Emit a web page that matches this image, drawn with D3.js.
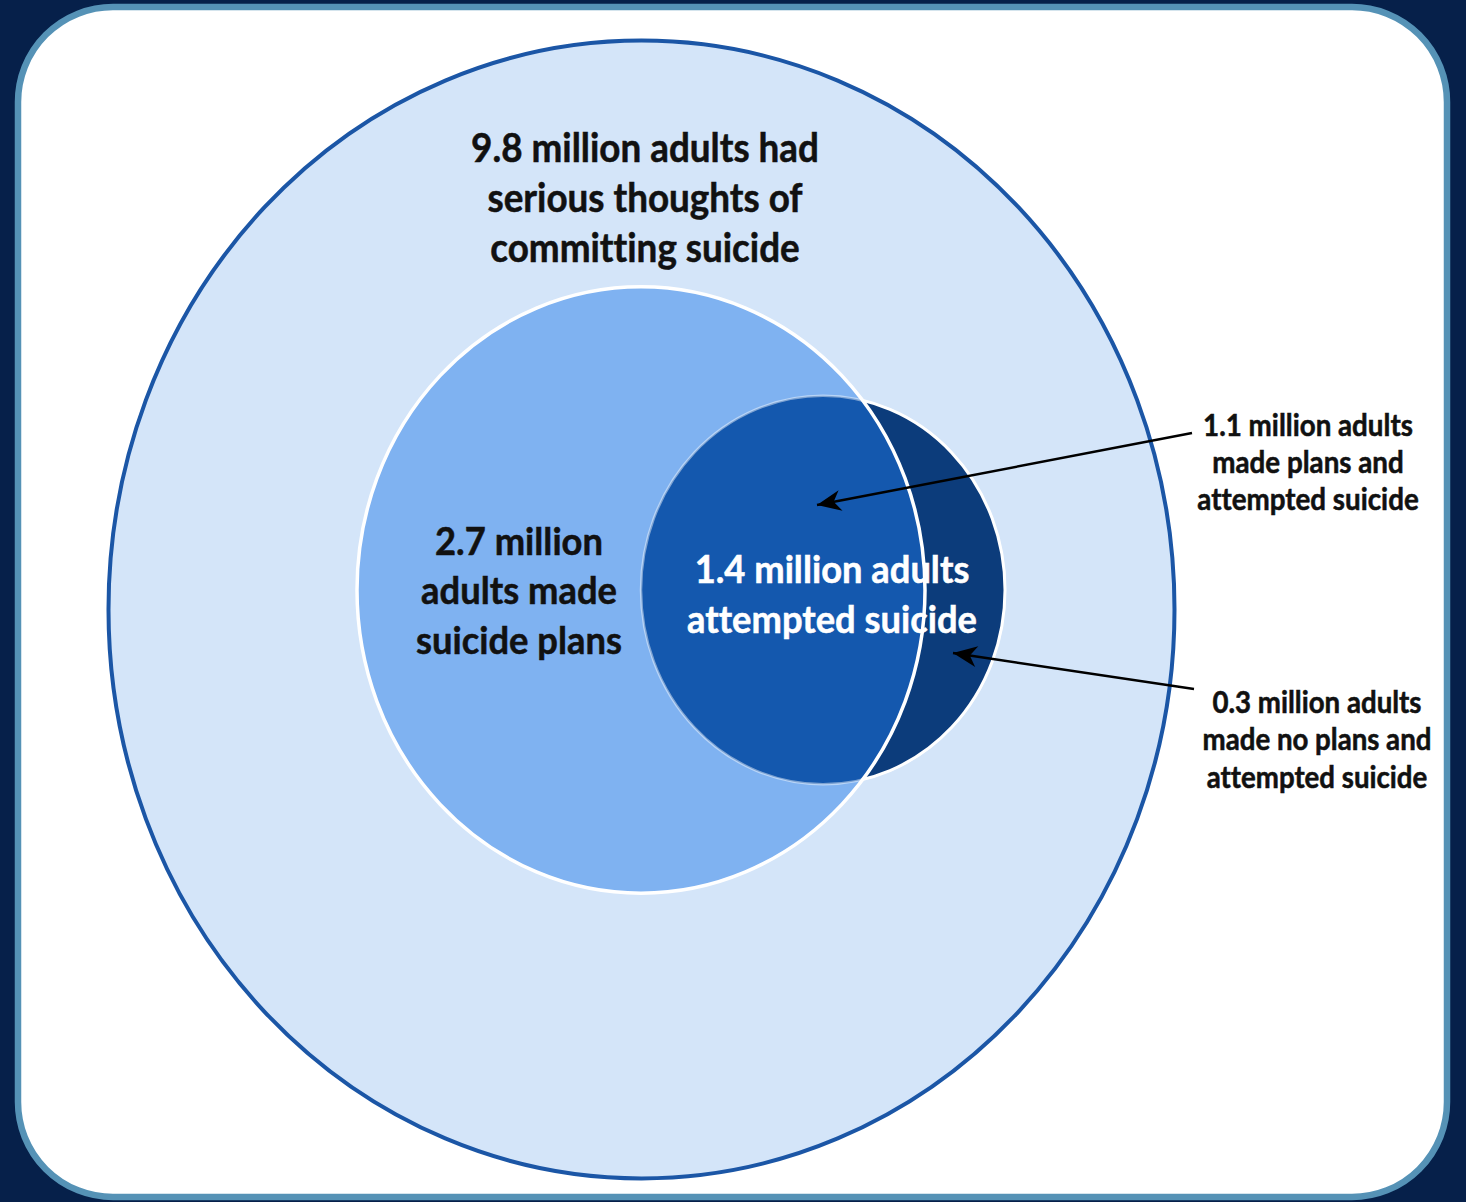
<!DOCTYPE html>
<html>
<head>
<meta charset="utf-8">
<script src="https://cdn.jsdelivr.net/npm/d3@7"></script>
<style>
  html, body { margin: 0; padding: 0; background: #06204a; }
  svg { display: block; }
  text { font-family: Lato, "Open Sans", sans-serif; font-weight: 700; font-variant-ligatures: none; }
</style>
</head>
<body>
<svg id="chart" width="1466" height="1202"></svg>
<script>
// Adults (millions) in each nested group
const groups = ["thoughts", "plans", "attempted"];
const groupValues = [9.8, 2.7, 1.4];
const splitLabels = ["planned", "unplanned"];
const splitValues = [1.1, 0.3];

// Label text, one array of lines per group
const thoughtsLines = [`${groupValues[0]} million adults had`, "serious thoughts of", "committing suicide"];
const plansLines = [`${groupValues[1]} million`, "adults made", "suicide plans"];
const attemptedLines = [`${groupValues[2]} million adults`, "attempted suicide"];
const plannedLines = [`${splitValues[0]} million adults`, "made plans and", "attempted suicide"];
const unplannedLines = [`${splitValues[1]} million adults`, "made no plans and", "attempted suicide"];

const W = 1466, H = 1202;
const svg = d3.select("#chart");

// Card background
svg.append("rect").attr("x", 0).attr("y", 0).attr("width", W).attr("height", H).attr("fill", "#06204a");
svg.append("rect")
  .attr("x", 18).attr("y", 7).attr("width", 1429).attr("height", 1190)
  .attr("rx", 95).attr("ry", 95)
  .attr("fill", "#ffffff").attr("stroke", "#5592b6").attr("stroke-width", 6.5);

// Horizontal radius from value (piecewise layout scale); vertical aspect stretch
const rScale = d3.scaleLinear().domain([groupValues[2], groupValues[1], groupValues[0]]).range([182, 284, 533]);
const aspect = 1.067;

const ells = [
  { key: "thoughts", cx: 641.5, cy: 609.5, v: groupValues[0] },
  { key: "plans", cx: 641, cy: 590, v: groupValues[1] },
  { key: "attempted", cx: 823, cy: 590, v: groupValues[2] }
].map(d => ({ ...d, rx: rScale(d.v), ry: rScale(d.v) * aspect }));
const E = Object.fromEntries(ells.map(d => [d.key, d]));

const defs = svg.append("defs");
const ellPath = d => `M${d.cx - d.rx},${d.cy} a${d.rx},${d.ry} 0 1,0 ${2 * d.rx},0 a${d.rx},${d.ry} 0 1,0 ${-2 * d.rx},0 Z`;

// Region outside the plans circle
defs.append("mask").attr("id", "outside-plans")
  .call(m => {
    m.append("rect").attr("width", W).attr("height", H).attr("fill", "#fff");
    m.append("path").attr("d", ellPath(E.plans)).attr("fill", "#000");
  });

// Outer: serious thoughts
svg.append("path").attr("d", ellPath(E.thoughts))
  .attr("fill", "#d4e5f9").attr("stroke", "#1b56a6").attr("stroke-width", 4);

// Plans
svg.append("path").attr("d", ellPath(E.plans)).attr("fill", "#7fb2f1");

// Attempted (overlap with plans)
svg.append("path").attr("d", ellPath(E.attempted))
  .attr("fill", "#1458ae").attr("stroke", "rgba(255,255,255,0.45)").attr("stroke-width", 2.5);

// Attempted without plans: crescent outside the plans circle
svg.append("g").attr("mask", "url(#outside-plans)")
  .append("path").attr("d", ellPath(E.attempted))
  .attr("fill", "#0c3c7b").attr("stroke", "#ffffff").attr("stroke-width", 3);

// Plans outline on top
svg.append("path").attr("d", ellPath(E.plans))
  .attr("fill", "none").attr("stroke", "#ffffff").attr("stroke-width", 3.5);

// Text blocks
function block(lines, cx, y0, step, fitIdx, fitWidth, color) {
  const g = svg.append("g");
  const t = g.selectAll("text").data(lines).join("text")
    .attr("text-anchor", "middle")
    .attr("fill", color)
    .attr("font-size", 100)
    .text(d => d);
  const w = t.nodes()[fitIdx].getComputedTextLength();
  const fs = 100 * fitWidth / w;
  t.attr("font-size", fs)
    .attr("transform", (d, i) => `translate(${cx},${y0 + i * step}) scale(1,${aspect})`)
    .attr("dy", "0.36em")
    .attr("stroke", color).attr("stroke-width", 0.5);
}
block(thoughtsLines, 645, 148, 50, 0, 348, "#111111");
block(plansLines, 519, 541, 49.5, 2, 206, "#111111");
block(attemptedLines, 832, 569, 50, 1, 290, "#ffffff");
block(plannedLines, 1308, 425, 37, 0, 210, "#111111");
block(unplannedLines, 1317, 702, 37.5, 1, 229, "#111111");

// Leader arrows
defs.append("marker").attr("id", "head")
  .attr("viewBox", "-26 -12 28 24").attr("refX", 0).attr("refY", 0)
  .attr("markerWidth", 28).attr("markerHeight", 24)
  .attr("markerUnits", "userSpaceOnUse").attr("orient", "auto")
  .append("path").attr("d", "M0,0 L-24,-10.5 L-17,0 L-24,10.5 Z").attr("fill", "#000");

const arrows = [
  { from: [1192, 433], to: [817, 505] },
  { from: [1194, 689], to: [953, 653] }
];
svg.selectAll("line.leader").data(arrows).join("line")
  .attr("class", "leader")
  .attr("x1", d => d.from[0]).attr("y1", d => d.from[1])
  .attr("x2", d => d.to[0]).attr("y2", d => d.to[1])
  .attr("stroke", "#000").attr("stroke-width", 2.5)
  .attr("marker-end", "url(#head)");
</script>
</body>
</html>
